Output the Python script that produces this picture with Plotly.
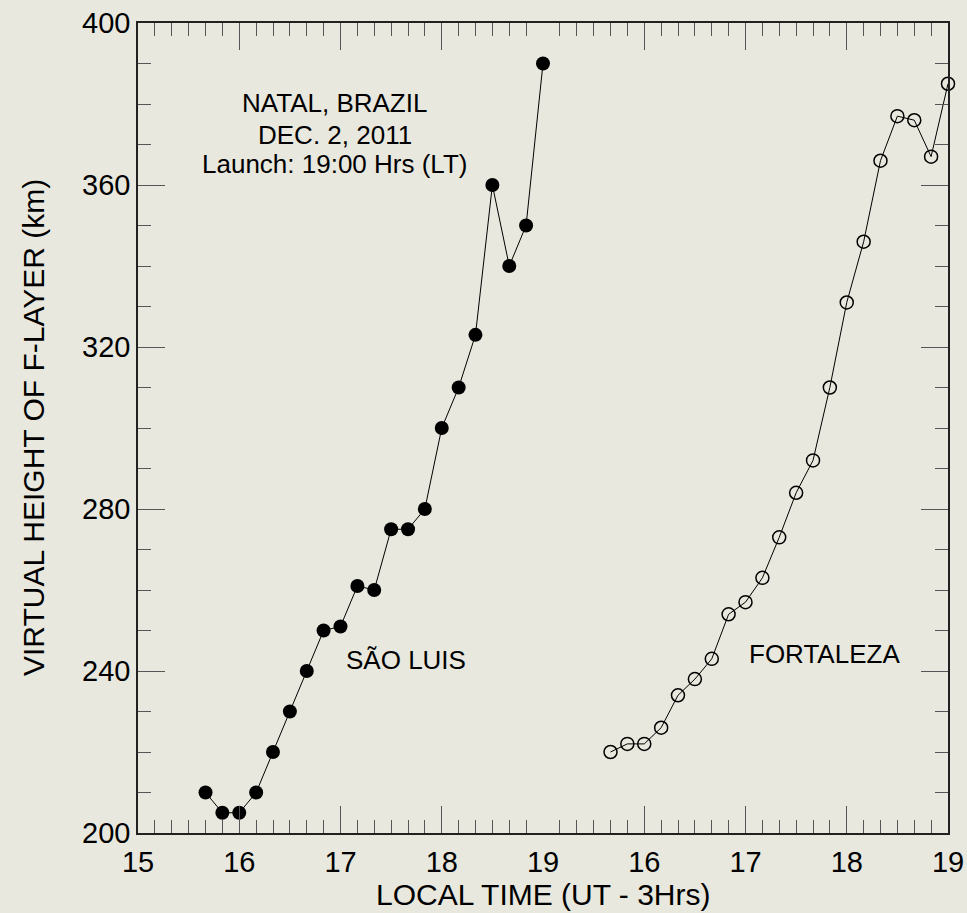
import plotly.graph_objects as go

# Local time (hours, 10-minute soundings)
times = [15.667, 15.833, 16.0, 16.167, 16.333, 16.5, 16.667, 16.833, 17.0, 17.167,
         17.333, 17.5, 17.667, 17.833, 18.0, 18.167, 18.333, 18.5, 18.667, 18.833, 19.0]

# Virtual height of the F layer (km)
sao_luis = [210, 205, 205, 210, 220, 230, 240, 250, 251, 261,
            260, 275, 275, 280, 300, 310, 323, 360, 340, 350, 390]
fortaleza = [220, 222, 222, 226, 234, 238, 243, 254, 257, 263,
             273, 284, 292, 310, 331, 346, 366, 377, 376, 367, 385]

left_ticks = [15, 16, 17, 18, 19]
right_ticks = [16, 17, 18, 19]

FONT = "Arial, Liberation Sans, sans-serif"
BG = "#e8e8de"
AXIS = "#222222"
TICK = "#555555"

fig = go.Figure()
fig.add_trace(go.Scatter(
    x=times, y=sao_luis, mode="lines+markers", xaxis="x", yaxis="y",
    line=dict(color="black", width=1),
    marker=dict(symbol="circle", size=14, color="black"),
    cliponaxis=False, showlegend=False,
))
fig.add_trace(go.Scatter(
    x=times, y=fortaleza, mode="lines+markers", xaxis="x2", yaxis="y2",
    line=dict(color="black", width=1),
    marker=dict(symbol="circle-open", size=13, color="black", line=dict(width=1.5)),
    cliponaxis=False, showlegend=False,
))

xcommon = dict(
    range=[15, 19], showgrid=False, zeroline=False, automargin=False,
    showline=True, linecolor=AXIS, linewidth=1.5, mirror="ticks",
    ticks="inside", ticklen=27, tickwidth=1, tickcolor=TICK,
    tickfont=dict(family=FONT, size=29, color="black"),
    ticklabelstandoff=2,
    tickmode="array",
    minor=dict(ticks="inside", ticklen=13, tickwidth=1, tickcolor=TICK,
               tickmode="linear", tick0=15, dtick=1 / 6, showgrid=False),
)
ycommon = dict(
    range=[200, 400], showgrid=False, zeroline=False, automargin=False,
    showline=True, linecolor=AXIS, linewidth=1.5,
    ticks="inside", ticklen=27, tickwidth=1, tickcolor=TICK,
    tick0=200, dtick=40,
    tickfont=dict(family=FONT, size=29, color="black"),
    minor=dict(ticks="inside", ticklen=13, tickwidth=1, tickcolor=TICK,
               tick0=200, dtick=10, showgrid=False),
)

fig.update_layout(
    width=967, height=913, autosize=False,
    margin=dict(l=138, r=19, t=23, b=80, autoexpand=False),
    paper_bgcolor=BG, plot_bgcolor=BG,
    font=dict(family=FONT, color="black"),
    xaxis=dict(domain=[0, 0.5], anchor="y", tickvals=left_ticks,
               ticktext=[str(t) for t in left_ticks], **xcommon),
    xaxis2=dict(domain=[0.5, 1], anchor="y2", tickvals=right_ticks,
                ticktext=[str(t) for t in right_ticks], **xcommon),
    yaxis=dict(domain=[0, 1], anchor="x", side="left", **ycommon),
    yaxis2=dict(domain=[0, 1], anchor="x2", side="right", showticklabels=False,
                **ycommon),
)

ann = dict(xref="paper", yref="paper", showarrow=False,
           font=dict(family=FONT, size=26, color="black"),
           xanchor="center", yanchor="middle")
fig.add_annotation(x=0.243, y=0.901, text="NATAL, BRAZIL", **ann)
fig.add_annotation(x=0.243, y=0.862, text="DEC. 2, 2011", **ann)
fig.add_annotation(x=0.243, y=0.826, text="Launch: 19:00 Hrs (LT)", **ann)
fig.add_annotation(x=0.331, y=0.214, text="SÃO LUIS", **ann)
fig.add_annotation(x=0.848, y=0.221, text="FORTALEZA", **ann)

# Axis titles
title = dict(ann, font=dict(family=FONT, size=30, color="black"))
fig.add_annotation(x=0.5, y=-0.0765, text="LOCAL TIME (UT - 3Hrs)", **title)
fig.add_annotation(x=-0.1296, y=0.5, text="VIRTUAL HEIGHT OF F-LAYER (km)",
                   textangle=-90, **title)

fig.write_html("out.html", config={"responsive": False})
